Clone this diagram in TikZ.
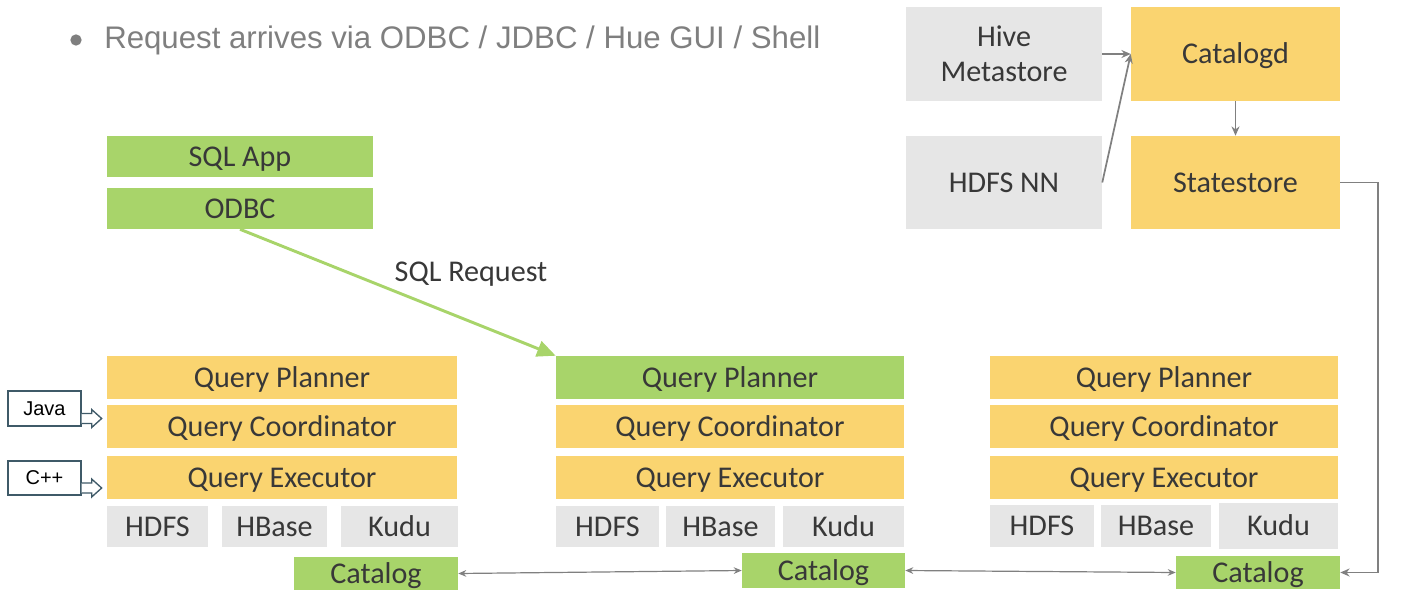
\documentclass[tikz,border=0pt]{standalone}
\usepackage{fontspec}
\setmainfont{Carlito}
\newfontfamily\titlefont{Liberation Sans}
\newfontfamily\arialfont{Liberation Sans}
\usetikzlibrary{arrows.meta}
\definecolor{ylw}{HTML}{FAD470}
\definecolor{grn}{HTML}{A8D46A}
\definecolor{gry}{HTML}{E6E6E6}
\definecolor{txt}{HTML}{383838}
\definecolor{ttl}{HTML}{7F7F7F}
\definecolor{lnk}{HTML}{808080}
\definecolor{slate}{HTML}{3F5A68}
\tikzset{
  sz/.style 2 args={minimum width=#1*0.75pt, minimum height=#2*0.75pt},
  base/.style={inner sep=0pt, text=txt, font=\fontsize{22.6pt}{26pt}\selectfont, align=center},
  one/.style={text height=14.5pt, text depth=0pt},
  ybox/.style={base, one, fill=ylw},
  gbox/.style={base, one, fill=grn},
  sbox/.style={base, one, fill=gry},
  langbox/.style={draw=slate, line width=1pt, fill=white, inner sep=0pt, font=\arialfont\fontsize{15pt}{17pt}\selectfont},
  blockarrow/.style={draw=slate, line width=1pt, fill=white},
  link/.style={draw=lnk, line width=1.3pt, -{Stealth[length=7pt,width=6pt]}},
  thin link/.style={draw=lnk, line width=0.9pt, {Stealth[length=6pt,width=5pt]}-{Stealth[length=6pt,width=5pt]}},
  req/.style={draw=grn, line width=2.2pt, -{Triangle[length=14pt,width=12pt]}},
}
\begin{document}
\begin{tikzpicture}[x=0.75pt,y=-0.75pt]
\useasboundingbox (0,0) rectangle (1403,600);

% title
\node[circle, fill=ttl, inner sep=0pt, minimum size=8.5pt] (bullet) at (76,40) {};
\node[anchor=west, inner sep=0pt, text=ttl, font=\titlefont\fontsize{23.4pt}{27pt}\selectfont] (title) at (104,40) {Request arrives via ODBC / JDBC / Hue GUI / Shell};

% client
\node[gbox, sz={266}{41}] (sqlapp) at (240,156.5) {SQL App};
\node[gbox, sz={266}{41}] (odbc) at (240,208.5) {ODBC};

% top right
\node[base, fill=gry, sz={196}{94}] (hive) at (1004,54) {Hive\\Metastore};
\node[sbox, sz={196}{93}] (hdfsnn) at (1004,182.5) {HDFS NN};
\node[ybox, sz={209}{94}] (catalogd) at (1235.5,54) {Catalogd};
\node[ybox, sz={209}{93}] (statestore) at (1235.5,182.5) {Statestore};

% left column
\node[ybox, sz={350}{43}] (lqp) at (282,377.5) {Query Planner};
\node[ybox, sz={350}{43}] (lqc) at (282,426.5) {Query Coordinator};
\node[ybox, sz={350}{43}] (lqe) at (282,477.5) {Query Executor};
\node[sbox, sz={101}{41}] (lhdfs) at (157.5,526.5) {HDFS};
\node[sbox, sz={105}{41}] (lhbase) at (274.5,526.5) {HBase};
\node[sbox, sz={117}{41}] (lkudu) at (399.5,526.5) {Kudu};
\node[gbox, sz={164}{33}] (lcat) at (376,573.5) {Catalog};

% middle column
\node[gbox, sz={348}{43}] (mqp) at (730,377.5) {Query Planner};
\node[ybox, sz={348}{43}] (mqc) at (730,426.5) {Query Coordinator};
\node[ybox, sz={348}{43}] (mqe) at (730,477.5) {Query Executor};
\node[sbox, sz={103}{41}] (mhdfs) at (607.5,526.5) {HDFS};
\node[sbox, sz={109}{41}] (mhbase) at (720.5,526.5) {HBase};
\node[sbox, sz={121}{41}] (mkudu) at (843.5,526.5) {Kudu};
\node[gbox, sz={163}{35}] (mcat) at (823.5,570.5) {Catalog};

% right column
\node[ybox, sz={348}{43}] (rqp) at (1164,377.5) {Query Planner};
\node[ybox, sz={348}{43}] (rqc) at (1164,426.5) {Query Coordinator};
\node[ybox, sz={348}{43}] (rqe) at (1164,477.5) {Query Executor};
\node[sbox, sz={104}{42}] (rhdfs) at (1042,526) {HDFS};
\node[sbox, sz={110}{42}] (rhbase) at (1156,526) {HBase};
\node[sbox, sz={119}{46}] (rkudu) at (1278.5,526) {Kudu};
\node[gbox, sz={164}{33}] (rcat) at (1258,572.5) {Catalog};

% language boxes
\node[langbox, sz={73}{35}] (java) at (44.5,408.5) {Java};
\node[langbox, sz={73}{34}] (cpp) at (44.5,478) {C++};
\draw[blockarrow] ([yshift=-5*0.75pt]java.east) -- ++(10,0) -- ++(0,-4) -- ++(10,9) -- ++(-10,9) -- ++(0,-4) -- ++(-10,0);
\draw[blockarrow] ([yshift=-5*0.75pt]cpp.east) -- ++(10,0) -- ++(0,-4) -- ++(10,9) -- ++(-10,9) -- ++(0,-4) -- ++(-10,0);

% connectors
\draw[link] (hive.east) -- (catalogd.west);
\draw[link] (hdfsnn.east) -- (catalogd.west);
\draw[link] (catalogd.south) -- (statestore.north);
\draw[link] (statestore.east) -- ++(38,0) |- (rcat.east);
\draw[thin link] (lcat.east) -- (mcat.west);
\draw[thin link] (mcat.east) -- (rcat.west);
\draw[req] (odbc.south) -- (mqp.north west);
\node[base] (sqlreq) at (471,274) {SQL Request};
\end{tikzpicture}
\end{document}
